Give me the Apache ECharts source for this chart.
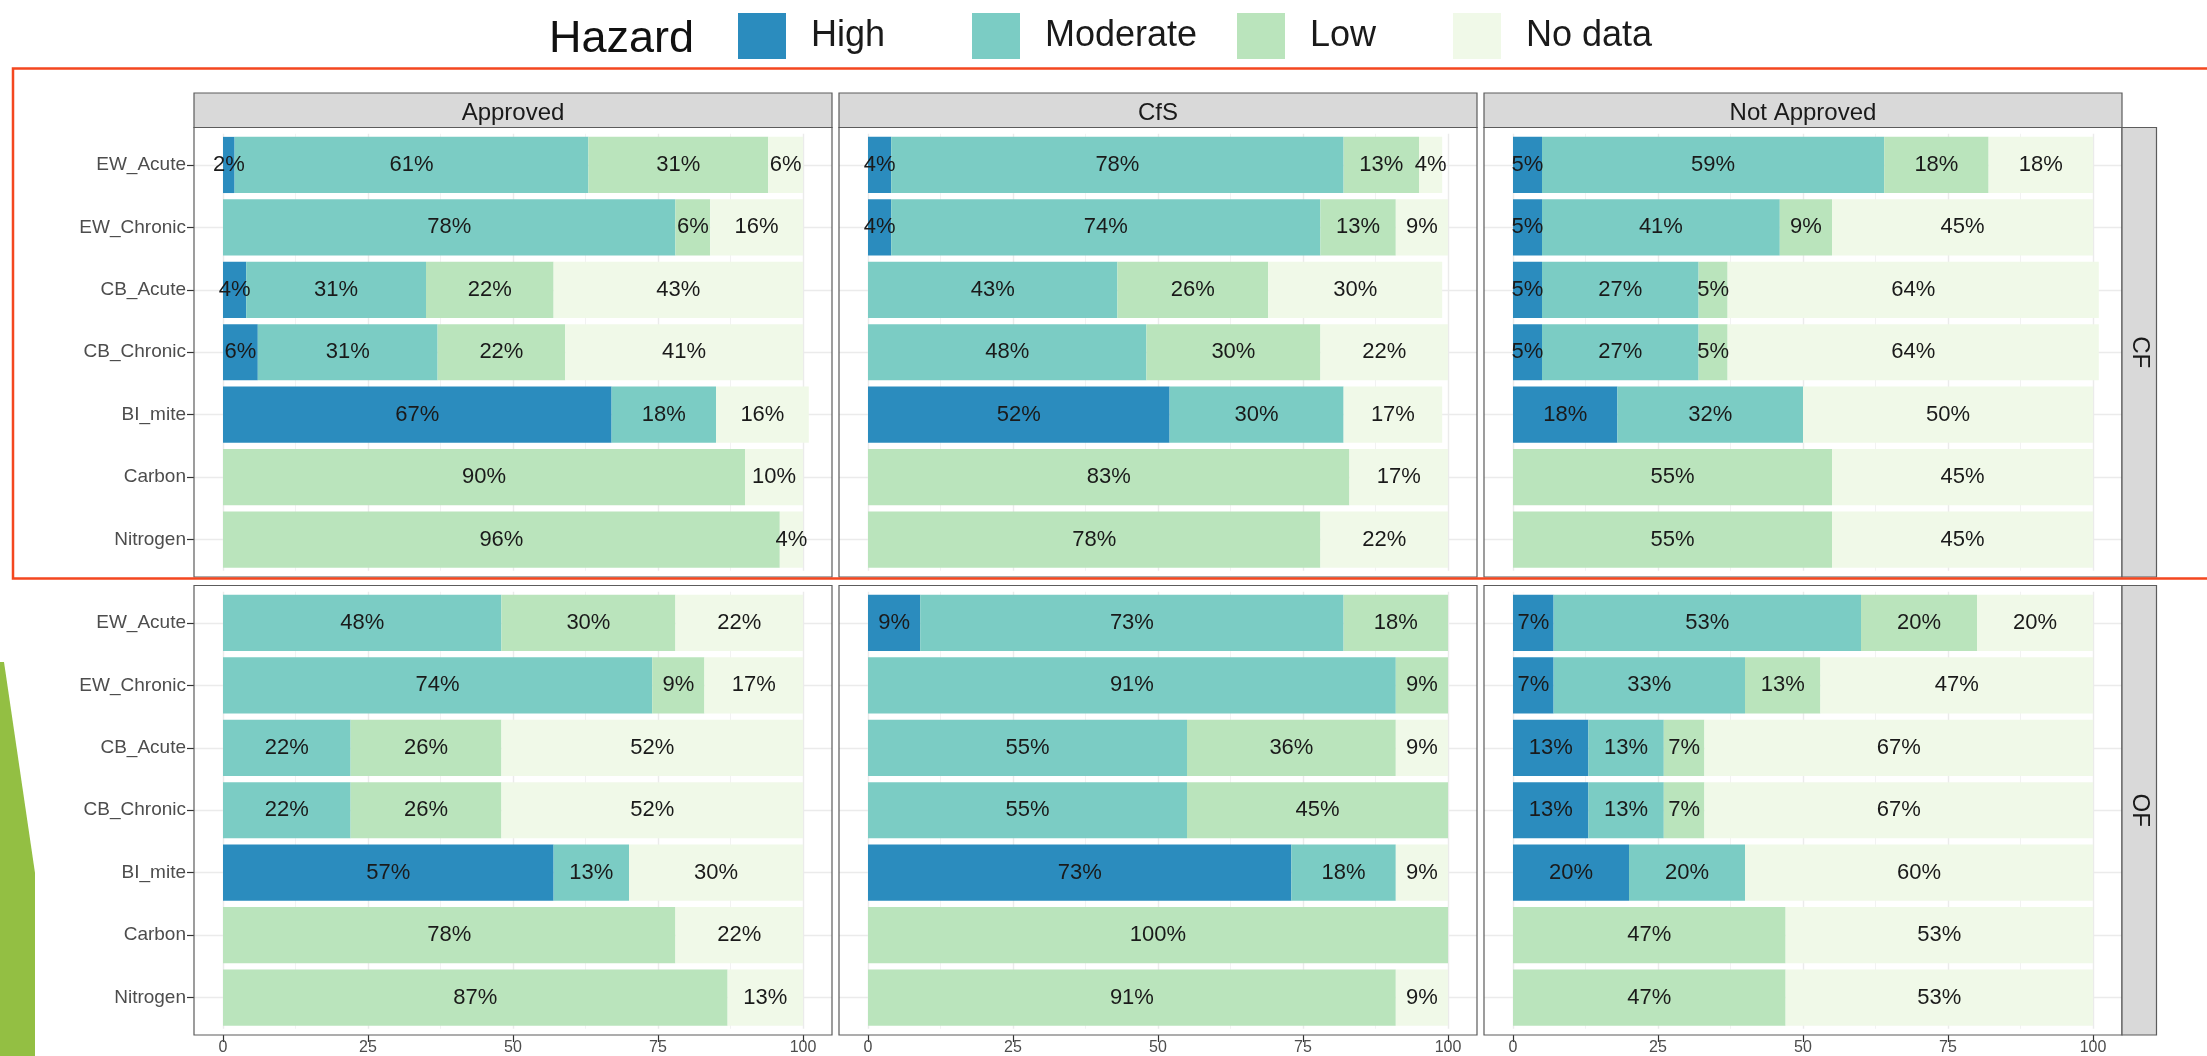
<!DOCTYPE html>
<html>
<head>
<meta charset="utf-8">
<script src="https://cdn.jsdelivr.net/npm/echarts@6/dist/echarts.min.js"></script>
<style>
  html, body { margin: 0; padding: 0; background: #ffffff; }
  #chart { width: 2207px; height: 1056px; }
</style>
</head>
<body>
<div id="chart"></div>
<script>
// ---- data -------------------------------------------------------------
const categories = ['EW_Acute', 'EW_Chronic', 'CB_Acute', 'CB_Chronic', 'BI_mite', 'Carbon', 'Nitrogen'];
const columns = ['Approved', 'CfS', 'Not Approved'];
const rows = ['CF', 'OF'];
const hazardLevels = ['High', 'Moderate', 'Low', 'No data'];
const hazardColors = ['#2B8CBE', '#7BCCC4', '#BAE4BC', '#F0F9E8'];
const xTicks = [0, 25, 50, 75, 100];
const xMinorTicks = [12.5, 37.5, 62.5, 87.5];

// percentage of substances per hazard level, in category order (null = none)
const cfApprovedHigh     = [2, null, 4, 6, 67, null, null];
const cfApprovedModerate = [61, 78, 31, 31, 18, null, null];
const cfApprovedLow      = [31, 6, 22, 22, null, 90, 96];
const cfApprovedNoData   = [6, 16, 43, 41, 16, 10, 4];

const cfCfsHigh     = [4, 4, null, null, 52, null, null];
const cfCfsModerate = [78, 74, 43, 48, 30, null, null];
const cfCfsLow      = [13, 13, 26, 30, null, 83, 78];
const cfCfsNoData   = [4, 9, 30, 22, 17, 17, 22];

const cfNotApprovedHigh     = [5, 5, 5, 5, 18, null, null];
const cfNotApprovedModerate = [59, 41, 27, 27, 32, null, null];
const cfNotApprovedLow      = [18, 9, 5, 5, null, 55, 55];
const cfNotApprovedNoData   = [18, 45, 64, 64, 50, 45, 45];

const ofApprovedHigh     = [null, null, null, null, 57, null, null];
const ofApprovedModerate = [48, 74, 22, 22, 13, null, null];
const ofApprovedLow      = [30, 9, 26, 26, null, 78, 87];
const ofApprovedNoData   = [22, 17, 52, 52, 30, 22, 13];

const ofCfsHigh     = [9, null, null, null, 73, null, null];
const ofCfsModerate = [73, 91, 55, 55, 18, null, null];
const ofCfsLow      = [18, 9, 36, 45, null, 100, 91];
const ofCfsNoData   = [null, null, 9, null, 9, null, 9];

const ofNotApprovedHigh     = [7, 7, 13, 13, 20, null, null];
const ofNotApprovedModerate = [53, 33, 13, 13, 20, null, null];
const ofNotApprovedLow      = [20, 13, 7, 7, null, 47, 47];
const ofNotApprovedNoData   = [20, 47, 67, 67, 60, 53, 53];

// facets[row][column] -> [High, Moderate, Low, No data]
const facets = [
  [
    [cfApprovedHigh, cfApprovedModerate, cfApprovedLow, cfApprovedNoData],
    [cfCfsHigh, cfCfsModerate, cfCfsLow, cfCfsNoData],
    [cfNotApprovedHigh, cfNotApprovedModerate, cfNotApprovedLow, cfNotApprovedNoData]
  ],
  [
    [ofApprovedHigh, ofApprovedModerate, ofApprovedLow, ofApprovedNoData],
    [ofCfsHigh, ofCfsModerate, ofCfsLow, ofCfsNoData],
    [ofNotApprovedHigh, ofNotApprovedModerate, ofNotApprovedLow, ofNotApprovedNoData]
  ]
];

// ---- layout -----------------------------------------------------------
const FONT = '"Liberation Sans", Arial, Helvetica, sans-serif';
const panelLeft = [194, 839, 1484];
const panelW = 638;
const panelTop = [127.5, 585.5];
const panelH = 449.5;
const stripTop = 93;
const stripW = 34.5;
// discrete axis padding of 0.6 band each side vs the 0.5 of a category axis
const inset = panelH * 0.1 / (categories.length + 0.2);
const borderColor = '#5c5c5c';
const gridColor = '#EBEBEB';

const grids = [], xAxes = [], yAxes = [], series = [], graphics = [];
const centerValues = categories.map((_, i) => i + 1);

rows.forEach((rowName, r) => {
  columns.forEach((colName, c) => {
    const gi = r * columns.length + c;
    grids.push({
      left: panelLeft[c], top: panelTop[r] + inset,
      width: panelW, height: panelH - 2 * inset, containLabel: false
    });
    // value axis with major gridlines, ticks and labels
    xAxes.push({
      gridIndex: gi, type: 'value', min: -5, max: 105, position: 'bottom', offset: inset,
      axisLine: { show: false, onZero: false },
      axisTick: { show: r === rows.length - 1, customValues: xTicks, length: 7,
                  lineStyle: { color: '#333333', width: 1.2 } },
      axisLabel: { show: r === rows.length - 1, customValues: xTicks, margin: 5,
                   fontSize: 16, color: '#4D4D4D', fontFamily: FONT },
      splitLine: { show: true, lineStyle: { color: gridColor, width: 1.4 } }
    });
    // hidden companion axis for minor gridlines
    xAxes.push({
      gridIndex: gi, type: 'value', min: -5, max: 105, position: 'top',
      axisLine: { show: false, onZero: false },
      axisTick: { show: false, customValues: xMinorTicks },
      axisLabel: { show: false },
      splitLine: { show: true, lineStyle: { color: '#F2F2F2', width: 1 } }
    });
    yAxes.push({
      gridIndex: gi, type: 'category', data: categories, inverse: true, position: 'left',
      axisLine: { show: false, onZero: false },
      axisTick: { show: c === 0, alignWithLabel: true, length: 7,
                  lineStyle: { color: '#333333', width: 1.2 } },
      axisLabel: { show: c === 0, interval: 0, margin: 8, fontSize: 19,
                   color: '#4D4D4D', fontFamily: FONT },
      splitLine: { show: false }
    });
    // hidden companion axis giving gridlines through the category centres
    yAxes.push({
      gridIndex: gi, type: 'value', min: 0.5, max: categories.length + 0.5, inverse: true,
      position: 'right',
      axisLine: { show: false, onZero: false },
      axisTick: { show: false, customValues: centerValues },
      axisLabel: { show: false },
      splitLine: { show: true, lineStyle: { color: gridColor, width: 1.4 } }
    });

    hazardLevels.forEach((level, k) => {
      series.push({
        type: 'bar', name: level,
        xAxisIndex: gi * 2, yAxisIndex: gi * 2,
        stack: 'facet' + gi,
        data: facets[r][c][k],
        barWidth: '90%',
        itemStyle: { color: hazardColors[k] },
        label: {
          show: true, position: 'inside',
          formatter: p => p.value + '%',
          fontSize: 22, color: '#1A1A1A', fontFamily: FONT
        },
        emphasis: { disabled: true },
        animation: false
      });
    });

    // panel border
    graphics.push({
      type: 'rect', z: 50,
      shape: { x: panelLeft[c], y: panelTop[r], width: panelW, height: panelH },
      style: { fill: 'none', stroke: borderColor, lineWidth: 1.2 }
    });
  });
});

// column strips
columns.forEach((colName, c) => {
  graphics.push({
    type: 'rect', z: 50,
    shape: { x: panelLeft[c], y: stripTop, width: panelW, height: panelTop[0] - stripTop },
    style: { fill: '#D9D9D9', stroke: borderColor, lineWidth: 1.2 }
  });
  graphics.push({
    type: 'text', z: 51,
    x: panelLeft[c] + panelW / 2, y: (stripTop + panelTop[0]) / 2 + 3,
    style: { text: colName, fontSize: 24, fontFamily: FONT, fill: '#1A1A1A',
             align: 'center', verticalAlign: 'middle' }
  });
});

// row strips
rows.forEach((rowName, r) => {
  const x0 = panelLeft[columns.length - 1] + panelW;
  graphics.push({
    type: 'rect', z: 50,
    shape: { x: x0, y: panelTop[r], width: stripW, height: panelH },
    style: { fill: '#D9D9D9', stroke: borderColor, lineWidth: 1.2 }
  });
  graphics.push({
    type: 'text', z: 51,
    x: x0 + stripW / 2, y: panelTop[r] + panelH / 2,
    rotation: -Math.PI / 2,
    style: { text: rowName, fontSize: 24, fontFamily: FONT, fill: '#1A1A1A',
             align: 'center', verticalAlign: 'middle' }
  });
});

// slide accent on the left edge
graphics.push({
  type: 'polygon', z: 1,
  shape: { points: [[0, 662], [4, 662], [35, 873], [35, 1056], [0, 1056]] },
  style: { fill: '#93BF43' }
});

// highlight frame around the CF row
graphics.push({
  type: 'rect', z: 60,
  shape: { x: 13, y: 68.5, width: 2230, height: 510 },
  style: { fill: 'none', stroke: '#F4471F', lineWidth: 2.5 }
});

// legend: one component per level so each can sit at its own spot
const legendLeft = [738, 972, 1237, 1453];
const legendTextShift = [1, 2, -3, 4];   // vertical nudge of each label, px
const legends = hazardLevels.map((level, k) => {
  const dy = legendTextShift[k];
  return {
    data: [level], left: legendLeft[k], top: 13, padding: 0,
    orient: 'horizontal', icon: 'rect', itemWidth: 48, itemHeight: 46,
    selectedMode: false,
    textStyle: {
      fontSize: 36, color: '#1A1A1A', fontFamily: FONT,
      padding: [dy > 0 ? 2 * dy : 0, 0, dy < 0 ? -2 * dy : 0, 20]
    }
  };
});

const chart = echarts.init(document.getElementById('chart'), null, { renderer: 'canvas' });
chart.setOption({
  backgroundColor: '#ffffff',
  animation: false,
  title: {
    text: 'Hazard', left: 549, top: 17, padding: 0,
    textStyle: { fontSize: 45, fontWeight: 'normal', color: '#111111', fontFamily: FONT }
  },
  legend: legends,
  grid: grids,
  xAxis: xAxes,
  yAxis: yAxes,
  series: series,
  graphic: { elements: graphics }
});
</script>
</body>
</html>
